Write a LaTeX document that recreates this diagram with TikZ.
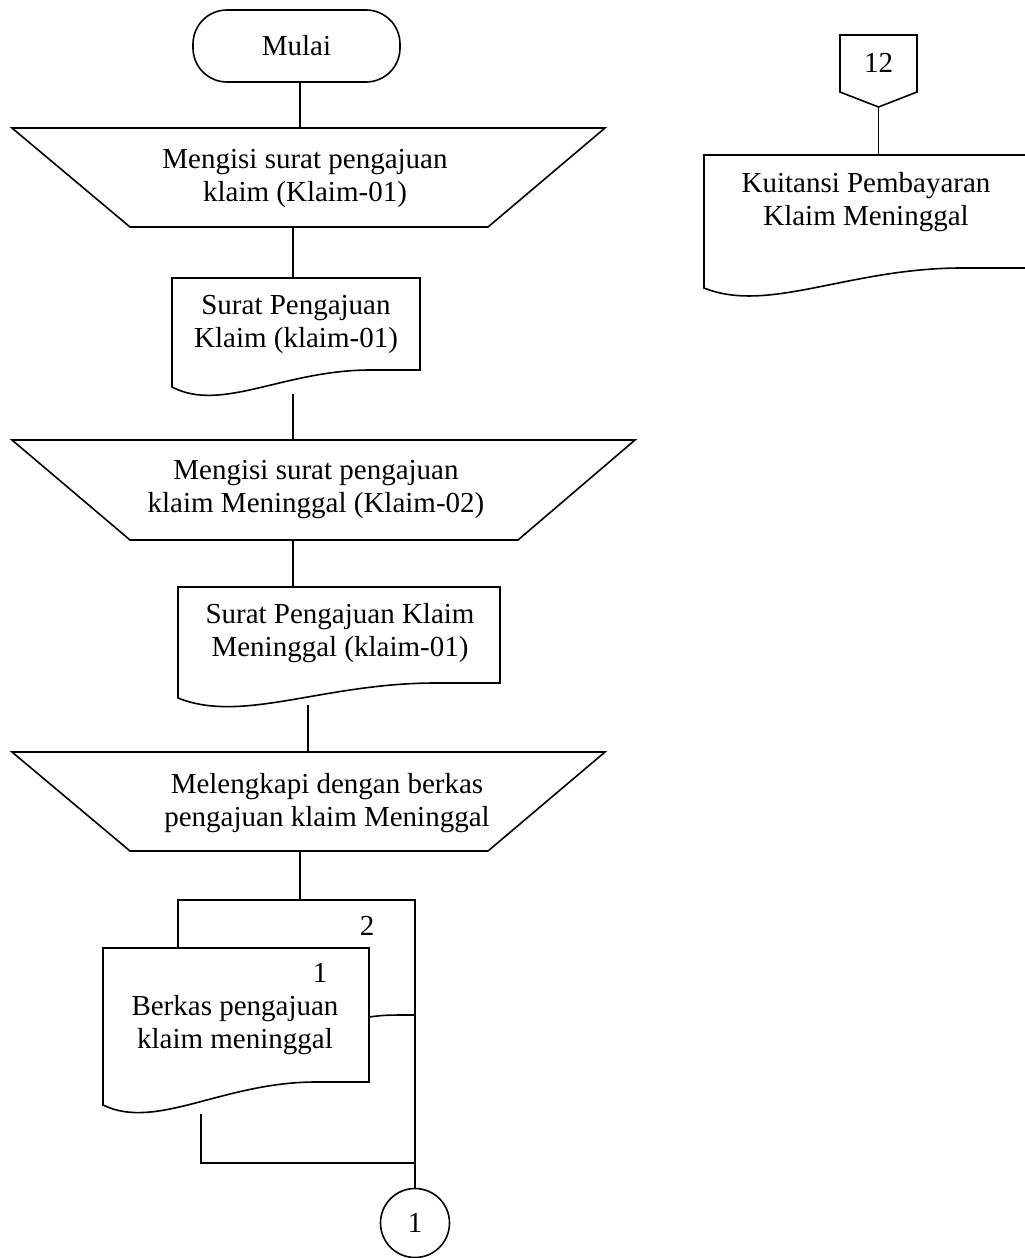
\documentclass[tikz,border=0pt]{standalone}
\usepackage{fontspec}
\setmainfont{Liberation Serif}
% document symbol: x-left, x-right, top, bottom at left, bottom at right
\newcommand\flowdoc[5]{%
  \draw[outline] (#1,#3) -- (#2,#3) -- (#2,#5) -- ({#1+0.8*(#2-#1)},#5)
    .. controls ({#1+0.45*(#2-#1)},#5) and ({#1+0.2*(#2-#1)},{#4+26}) .. (#1,#4) -- cycle;}
\begin{document}
\begin{tikzpicture}[x=1pt,y=-1pt,
  every node/.style={font=\fontsize{29}{33}\selectfont, align=center, inner sep=0pt},
  outline/.style={draw, line width=1.6pt, line join=miter},
  link/.style={draw, line width=1.6pt}]
\useasboundingbox (0,0) rectangle (1025,1258);

% start terminal
\node[outline, rectangle, rounded corners=34pt, minimum width=207pt, minimum height=72pt]
  (mulai) at (296.5,46) {Mulai};

% manual input 1
\draw[outline] (12,128) -- (605,128) -- (488,227) -- (130,227) -- cycle;
\coordinate (in1n) at (300,128);
\coordinate (in1s) at (293,227);
\node (in1) at (305,178) {Mengisi surat pengajuan\\klaim (Klaim-01)};

% document 1
\flowdoc{172}{420}{278}{387}{370}
\coordinate (doc1n) at (293,278);
\coordinate (doc1s) at (293,394);
\node (doc1) at (296,324) {Surat Pengajuan\\Klaim (klaim-01)};

% manual input 2
\draw[outline] (12,440) -- (635,440) -- (518,540) -- (130,540) -- cycle;
\coordinate (in2n) at (293,440);
\coordinate (in2s) at (293,540);
\node (in2) at (316,490) {Mengisi surat pengajuan\\klaim Meninggal (Klaim-02)};

% document 2
\flowdoc{178}{500}{587}{698}{683}
\coordinate (doc2n) at (293,587);
\coordinate (doc2s) at (308,705);
\node (doc2) at (340,633) {Surat Pengajuan Klaim\\Meninggal (klaim-01)};

% manual input 3
\draw[outline] (12,752) -- (605,752) -- (488,851) -- (130,851) -- cycle;
\coordinate (in3n) at (308,752);
\coordinate (in3s) at (300,851);
\node (in3) at (327,803) {Melengkapi dengan berkas\\pengajuan klaim Meninggal};

% multiple documents
\draw[outline] (178,948) -- (178,900) -- (415,900) -- (415,1163) -- (201,1163) -- (201,1114);
\draw[outline] (369,1017) .. controls (385,1015) .. (415,1015);
\flowdoc{103}{369}{948}{1105}{1082}
\coordinate (mdn) at (300,900);
\coordinate (mds) at (415,1163);
\node (md2) at (367,926) {2};
\node (md1) at (320,973) {1};
\node (md) at (235,1025) {Berkas pengajuan\\klaim meninggal};

% on-page connector
\node[outline, circle, minimum size=69pt] (con1) at (415,1223) {1};

% off-page connector and receipt
\draw[outline] (840,35) -- (917,35) -- (917,92) -- (878.5,107) -- (840,92) -- cycle;
\coordinate (offs) at (878.5,107);
\node (off) at (878.5,63) {12};
\flowdoc{704}{1026}{155}{288}{268}
\coordinate (kuin) at (878.5,155);
\node (kui) at (866,202) {Kuitansi Pembayaran\\Klaim Meninggal};

% flow lines
\draw[link] (mulai.south -| in1n) -- (in1n);
\draw[link] (in1s) -- (doc1n);
\draw[link] (doc1s) -- (in2n);
\draw[link] (in2s) -- (doc2n);
\draw[link] (doc2s) -- (in3n);
\draw[link] (in3s) -- (mdn);
\draw[link] (mds) -- (con1.north);
\draw[link] (offs) -- (kuin);
\end{tikzpicture}
\end{document}
